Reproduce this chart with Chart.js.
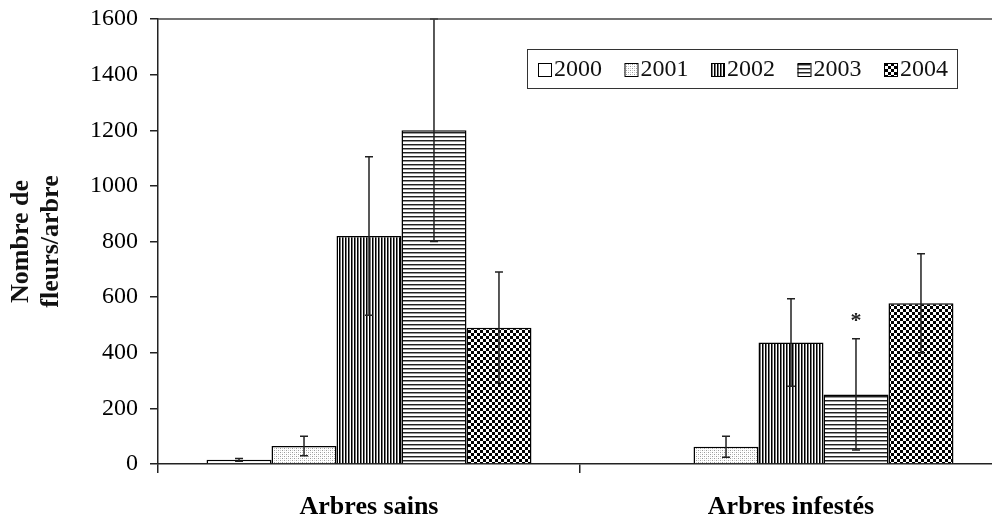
<!DOCTYPE html>
<html>
<head>
<meta charset="utf-8">
<script src="https://cdn.jsdelivr.net/npm/chart.js@4/dist/chart.umd.min.js"></script>
<style>
  html, body { margin: 0; padding: 0; background: #fff; overflow: hidden; }
  #wrap { width: 1010px; height: 515px; }
</style>
</head>
<body>
<div id="wrap"><canvas id="c" width="1010" height="515"></canvas></div>
<script>
// Donnees (nombre de fleurs / arbre)
const categories = ["Arbres sains", "Arbres infestés"];
const years = ["2000", "2001", "2002", "2003", "2004"];

const v2000 = [15, 3];
const v2001 = [65, 62];
const v2002 = [820, 437];
const v2003 = [1200, 250];
const v2004 = [490, 578];

const e2000 = [5, 0];
const e2001 = [35, 38];
const e2002 = [285, 157];
const e2003 = [400, 200];
const e2004 = [200, 178];

const stars2003 = ["", "*"];

const yTicks = [0, 200, 400, 600, 800, 1000, 1200, 1400, 1600];

const FONT = "'Liberation Serif', 'Times New Roman', serif";

// motifs de remplissage (style Excel noir et blanc)
function makePattern(size, draw) {
  const c = document.createElement("canvas");
  c.width = size; c.height = size;
  const g = c.getContext("2d");
  g.fillStyle = "#fff";
  g.fillRect(0, 0, size, size);
  draw(g);
  return g.createPattern(c, "repeat");
}

const ctx = document.getElementById("c").getContext("2d");

const fills = [
  "#ffffff",
  makePattern(4, g => {
    g.fillStyle = "#9a9a9a";
    g.fillRect(0, 0, 1, 1);
    g.fillRect(2, 2, 1, 1);
    g.fillStyle = "#d0d0d0";
    g.fillRect(2, 0, 1, 1);
    g.fillRect(0, 2, 1, 1);
  }),
  makePattern(3, g => {
    g.fillStyle = "#000";
    g.fillRect(0, 0, 1, 3);
    g.fillStyle = "#777";
    g.fillRect(1, 0, 1, 3);
  }),
  makePattern(4, g => {
    g.fillStyle = "#222";
    g.fillRect(0, 0, 4, 1);
    g.fillStyle = "#999";
    g.fillRect(0, 1, 4, 1);
  }),
  makePattern(6, g => {
    g.fillStyle = "#000";
    g.fillRect(0, 0, 3, 3);
    g.fillRect(3, 3, 3, 3);
  }),
];

const series = [v2000, v2001, v2002, v2003, v2004];
const errors = [e2000, e2001, e2002, e2003, e2004];

const errorBars = {
  id: "errorBars",
  afterDatasetsDraw(chart) {
    const y = chart.scales.y;
    const area = chart.chartArea;
    const c = chart.ctx;
    c.save();
    c.strokeStyle = "#222";
    c.lineWidth = 1.5;
    chart.data.datasets.forEach((ds, i) => {
      const meta = chart.getDatasetMeta(i);
      meta.data.forEach((bar, j) => {
        const err = errors[i][j];
        if (!err) return;
        const v = ds.data[j];
        const top = Math.max(y.getPixelForValue(v + err), area.top);
        const bot = y.getPixelForValue(Math.max(v - err, 0));
        c.beginPath();
        c.moveTo(bar.x, top); c.lineTo(bar.x, bot);
        c.moveTo(bar.x - 4, top); c.lineTo(bar.x + 4, top);
        c.moveTo(bar.x - 4, bot); c.lineTo(bar.x + 4, bot);
        c.stroke();
      });
    });
    // asterisque
    const meta3 = chart.getDatasetMeta(3);
    c.fillStyle = "#222";
    c.font = "bold 22px " + FONT;
    c.textAlign = "center";
    c.textBaseline = "middle";
    stars2003.forEach((s, j) => {
      if (!s) return;
      const top = y.getPixelForValue(v2003[j] + e2003[j]);
      c.fillText(s, meta3.data[j].x, top - 18);
    });
    c.restore();
  },
};

const frameAndLegend = {
  id: "frameAndLegend",
  afterDraw(chart) {
    const c = chart.ctx;
    const a = chart.chartArea;
    c.save();
    // ligne du cadre en haut
    c.strokeStyle = "#444";
    c.lineWidth = 1.5;
    c.beginPath();
    c.moveTo(a.left, a.top);
    c.lineTo(a.right, a.top);
    c.stroke();
    // legende
    c.fillStyle = "#fff";
    c.fillRect(527, 49, 430, 39);
    c.strokeStyle = "#333";
    c.lineWidth = 1;
    c.strokeRect(527.5, 49.5, 430, 39);
    c.font = "24px " + FONT;
    c.textBaseline = "middle";
    c.textAlign = "left";
    years.forEach((yr, i) => {
      const x = 538 + i * 86.5;
      c.fillStyle = fills[i];
      c.fillRect(x, 63, 13, 13);
      c.strokeStyle = "#000";
      c.strokeRect(x + 0.5, 63.5, 13, 13);
      c.fillStyle = "#111";
      c.fillText(yr, x + 16, 70);
    });
    c.restore();
  },
};

new Chart(ctx, {
  type: "bar",
  data: {
    labels: categories,
    datasets: years.map((yr, i) => ({
      label: yr,
      data: series[i],
      backgroundColor: fills[i],
      borderColor: "#000",
      borderWidth: 1.5,
      categoryPercentage: 0.77,
      barPercentage: 1.0,
    })),
  },
  options: {
    responsive: false,
    animation: false,
    layout: { padding: { top: 19, right: 8, left: 0, bottom: 0 } },
    plugins: {
      legend: { display: false },
      tooltip: { enabled: false },
    },
    scales: {
      x: {
        grid: { drawOnChartArea: false, color: "#222", tickLength: 9, lineWidth: 1.5 },
        border: { color: "#222", width: 1.5 },
        ticks: { color: "#000", font: { family: FONT, size: 26, weight: "bold" }, padding: 19 },
        afterFit(scale) { scale.height = 51; },
      },
      y: {
        min: 0,
        max: 1600,
        afterBuildTicks(scale) { scale.ticks = yTicks.map(v => ({ value: v })); },
        grid: { drawOnChartArea: false, color: "#222", tickLength: 8, lineWidth: 1.5 },
        border: { color: "#222", width: 1.5 },
        ticks: {
          color: "#000",
          font: { family: FONT, size: 24 },
          padding: 12,
          callback: v => String(v),
        },
        title: {
          display: true,
          text: ["Nombre de", "fleurs/arbre"],
          color: "#111",
          font: { family: FONT, size: 26, weight: "bold", lineHeight: 1.15 },
          padding: { top: 6, bottom: 0 },
        },
        afterFit(scale) {
          scale.width = 158;
          scale.paddingTop = 0;
          scale.paddingBottom = 0;
        },
      },
    },
  },
  plugins: [errorBars, frameAndLegend],
});
</script>
</body>
</html>
